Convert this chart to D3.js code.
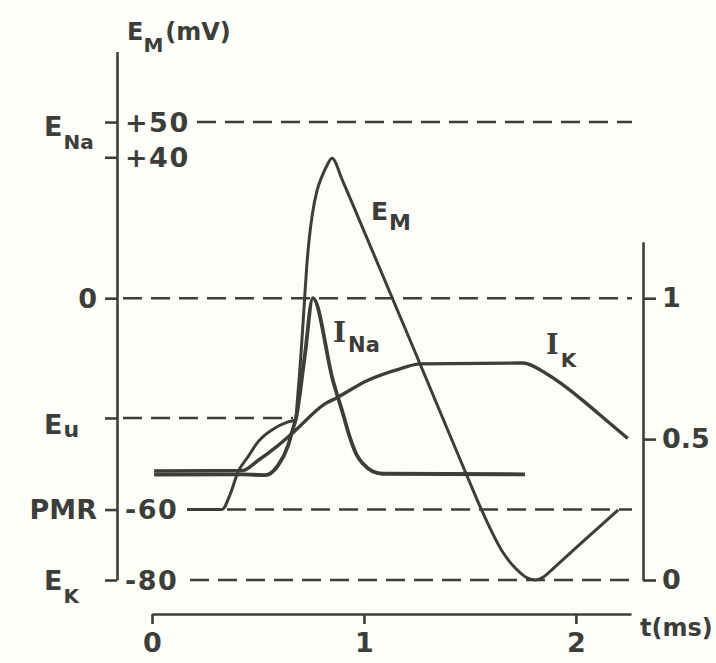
<!DOCTYPE html>
<html>
<head>
<meta charset="utf-8">
<script src="https://cdn.jsdelivr.net/npm/d3@7"></script>
<style>
html, body { margin: 0; padding: 0; background: #fdfdf9; }
svg { display: block; }
text { font-family: "DejaVu Sans", sans-serif; font-weight: bold; fill: #3d3e39; }
</style>
</head>
<body>
<svg width="716" height="663"></svg>
<script>
// membrane potential E_M (mV) against time (ms)
var emTime = [0.165, 0.33, 0.368, 0.406, 0.453, 0.5, 0.566, 0.642, 0.675, 0.69, 0.705, 0.718, 0.73, 0.742, 0.757, 0.778,
              0.8, 0.825, 0.849, 0.9, 0.95, 1.297, 1.486, 1.561, 1.656, 1.722, 1.77, 1.81, 1.85, 1.895, 2.0, 2.1, 2.2];
var emMv = [-60, -60, -55.8, -49.3, -45, -40.8, -37.4, -35.1, -34.6, -26, -14, -2, 9, 17, 24, 30.4,
            34.3, 37.6, 39.7, 33.2, 26.2, -23.3, -50.4, -60.9, -72.2, -77.1, -79.4, -80, -79, -76.6, -70.9, -65.5, -60.1];

// sodium current, relative units (right axis)
var naTime = [0.01, 0.425, 0.533, 0.594, 0.642, 0.665, 0.679, 0.72, 0.759, 0.854, 0.901, 0.934, 0.967, 0.995, 1.042, 1.09, 1.76];
var naVal = [0.374, 0.375, 0.372, 0.406, 0.477, 0.537, 0.572, 0.79, 1.0, 0.707, 0.59, 0.505, 0.442, 0.413, 0.385, 0.377, 0.375];

// potassium current, relative units (right axis)
var kTime = [0.01, 0.425, 0.5, 0.594, 0.675, 0.816, 0.873, 1.014, 1.17, 1.264, 1.75, 1.863, 1.958, 2.052, 2.146, 2.245];
var kVal = [0.387, 0.388, 0.424, 0.477, 0.53, 0.625, 0.647, 0.707, 0.749, 0.767, 0.77, 0.731, 0.682, 0.625, 0.565, 0.502];

// left axis: values, numbers and names
var mvTicks = [50, 40, 0, -34, -60, -80];
var mvNumbers = ['+50', '+40', '', '', '-60', '-80'];
var mvNames = [['E', 'Na'], null, null, ['E', 'u'], ['PMR', ''], ['E', 'K']];
var dashedLevels = [50, 0, -34, -60, -80];

var rightTicks = [0, 0.5, 1];
var rightLabels = ['0', '0.5', '1'];
var timeTicks = [0, 1, 2];

var ink = '#3d3e39';
var svg = d3.select('svg');

var x = d3.scaleLinear().domain([0, 2.26]).range([152, 631]);
var y = d3.scaleLinear().domain([-80, 70]).range([580, 51.6]);
var yR = d3.scaleLinear().domain([0, 1.2]).range([y(-80), y(16)]);

function styleAxis(g) {
    g.selectAll('path, line').attr('stroke', ink).attr('stroke-width', 2.6);
    g.attr('font-family', null).attr('font-size', null);
}

// dashed reference levels
var dashStart = { '50': 197, '0': 123, '-34': 123, '-60': 227, '-80': 190 };
var dashEnd = { '50': 632, '0': 632, '-34': 293, '-60': 632, '-80': 632 };
svg.append('g')
    .selectAll('line')
    .data(dashedLevels)
    .enter().append('line')
    .attr('x1', function(d) { return dashStart[d]; })
    .attr('x2', function(d) { return dashEnd[d]; })
    .attr('y1', function(d) { return y(d); })
    .attr('y2', function(d) { return y(d); })
    .attr('stroke', ink)
    .attr('stroke-width', 2.4)
    .attr('stroke-dasharray', '19 9');

// left axis
var left = svg.append('g')
    .attr('transform', 'translate(117,0)')
    .call(d3.axisLeft(y).tickValues(mvTicks).tickFormat('').tickSize(12).tickSizeOuter(0));
styleAxis(left);

svg.append('g')
    .selectAll('text')
    .data(mvTicks)
    .enter().append('text')
    .attr('x', 125)
    .attr('y', function(d) { return y(d); })
    .attr('dy', '0.36em')
    .attr('font-size', 27)
    .attr('letter-spacing', 1.5)
    .text(function(d, i) { return mvNumbers[i]; });

svg.append('text')
    .attr('x', 97)
    .attr('y', y(0))
    .attr('dy', '0.36em')
    .attr('text-anchor', 'end')
    .attr('font-size', 27)
    .text('0');

var names = svg.append('g')
    .selectAll('text')
    .data(mvTicks.filter(function(d, i) { return mvNames[i]; }))
    .enter().append('text')
    .attr('font-size', 27)
    .attr('y', function(d) { return y(d); })
    .attr('dy', '0.36em');
names.each(function(d) {
    var n = mvNames[mvTicks.indexOf(d)];
    var t = d3.select(this);
    if (n[1] === '') {
        t.attr('x', 97).attr('text-anchor', 'end').text(n[0]);
    } else {
        t.attr('x', 44).attr('dy', d === -34 ? '0.6em' : (d === -80 ? '0.38em' : '0.5em'));
        t.append('tspan').text(n[0]);
        t.append('tspan').attr('font-size', n[1] === 'u' ? 22 : 20).attr('dy', n[1] === 'u' ? 3 : 13).attr('dx', 1).text(n[1]);
    }
});

// axis title
var title = svg.append('text').attr('x', 127).attr('y', 40).attr('font-size', 24);
title.append('tspan').text('E');
title.append('tspan').attr('font-size', 20).attr('dy', 12).text('M');
title.append('tspan').attr('dy', -12).attr('dx', 2).text('(mV)');

// right axis
var right = svg.append('g')
    .attr('transform', 'translate(643,0)')
    .call(d3.axisRight(yR).tickValues(rightTicks).tickSize(13).tickSizeOuter(0).tickPadding(6)
        .tickFormat(function(d, i) { return rightLabels[i]; }));
styleAxis(right);
right.selectAll('text').attr('font-size', 27).attr('fill', ink);

// time axis
var bottom = svg.append('g')
    .attr('transform', 'translate(0,614)')
    .call(d3.axisBottom(x).tickValues(timeTicks).tickSize(10).tickSizeOuter(0).tickPadding(9)
        .tickFormat(function(d) { return d; }));
styleAxis(bottom);
bottom.selectAll('text').attr('font-size', 27).attr('fill', ink);

svg.append('text')
    .attr('x', 640)
    .attr('y', 636)
    .attr('font-size', 24)
    .text('t(ms)');

// curves
var lineMv = d3.line()
    .x(function(d) { return x(d[0]); })
    .y(function(d) { return y(d[1]); })
    .curve(d3.curveMonotoneX);
var lineRel = d3.line()
    .x(function(d) { return x(d[0]); })
    .y(function(d) { return yR(d[1]); })
    .curve(d3.curveMonotoneX);

svg.append('path')
    .datum(d3.zip(kTime, kVal))
    .attr('d', lineRel)
    .attr('fill', 'none')
    .attr('stroke', ink)
    .attr('stroke-width', 3.4);

svg.append('path')
    .datum(d3.zip(naTime, naVal))
    .attr('d', lineRel)
    .attr('fill', 'none')
    .attr('stroke', ink)
    .attr('stroke-width', 3.8);

svg.append('path')
    .datum(d3.zip(emTime, emMv))
    .attr('d', lineMv)
    .attr('fill', 'none')
    .attr('stroke', ink)
    .attr('stroke-width', 3);

// curve labels
var lab = svg.append('text').attr('x', 371).attr('y', 220).attr('font-size', 25);
lab.append('tspan').text('E');
lab.append('tspan').attr('font-size', 22).attr('dy', 10).attr('dx', 1).text('M');

lab = svg.append('text').attr('x', 333).attr('y', 342).attr('font-size', 28);
lab.append('tspan').attr('font-family', 'DejaVu Serif').text('I');
lab.append('tspan').attr('font-size', 21).attr('dy', 10).attr('dx', 2).text('Na');

lab = svg.append('text').attr('x', 546).attr('y', 354).attr('font-size', 27);
lab.append('tspan').attr('font-family', 'DejaVu Serif').text('I');
lab.append('tspan').attr('font-size', 20).attr('dy', 13).attr('dx', 2).text('K');
</script>
</body>
</html>
